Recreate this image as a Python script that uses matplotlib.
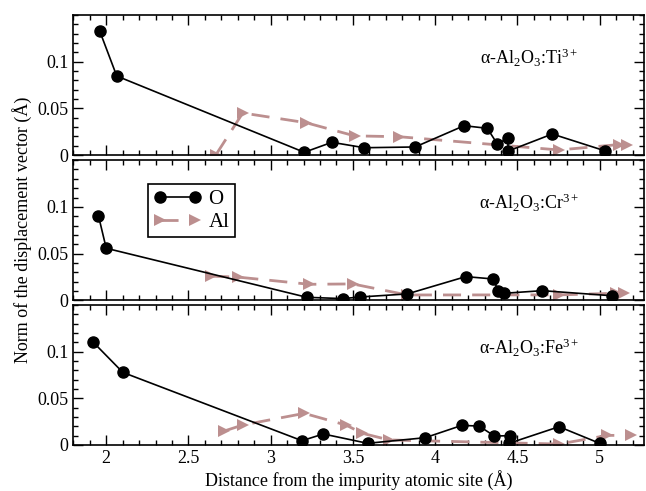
import matplotlib
matplotlib.use("Agg")
import matplotlib.pyplot as plt
from matplotlib.ticker import MultipleLocator

plt.rcParams['font.family'] = ['Liberation Serif', 'DejaVu Serif']
plt.rcParams['mathtext.fontset'] = 'custom'
plt.rcParams['mathtext.rm'] = 'Liberation Serif'
plt.rcParams['mathtext.it'] = 'Liberation Serif:italic'

# ---- data ----
ti_o_x = [1.96, 2.064, 3.204, 3.372, 3.569, 3.878, 4.176, 4.317, 4.378, 4.44, 4.445, 4.712, 5.03]
ti_o_y = [0.133, 0.0846, 0.0029, 0.0136, 0.0078, 0.0086, 0.0314, 0.0286, 0.0118, 0.0179, 0.0043, 0.0225, 0.0046]
ti_al_x = [2.668, 2.83, 3.215, 3.51, 3.78, 4.753, 5.117, 5.165]
ti_al_y = [0.0005, 0.045, 0.0346, 0.0205, 0.0196, 0.0054, 0.0112, 0.0112]

cr_o_x = [1.953, 2.0, 3.22, 3.44, 3.54, 3.83, 4.186, 4.352, 4.384, 4.419, 4.652, 5.073]
cr_o_y = [0.0904, 0.0558, 0.0034, 0.002, 0.0037, 0.007, 0.0255, 0.023, 0.0102, 0.0077, 0.0105, 0.0051]
cr_al_x = [2.638, 2.8, 3.235, 3.498, 3.83, 4.753, 5.097, 5.148]
cr_al_y = [0.026, 0.025, 0.0173, 0.0177, 0.0059, 0.006, 0.0077, 0.0077]

fe_o_x = [1.919, 2.101, 3.19, 3.32, 3.589, 3.939, 4.162, 4.267, 4.36, 4.455, 4.449, 4.753, 5.0]
fe_o_y = [0.1105, 0.0778, 0.0046, 0.0118, 0.0018, 0.0078, 0.021, 0.0203, 0.0096, 0.01, 0.0018, 0.0196, 0.0018]
fe_al_x = [2.718, 2.83, 3.204, 3.457, 3.558, 3.72, 4.753, 5.047, 5.19]
fe_al_y = [0.015, 0.0214, 0.0339, 0.0214, 0.0125, 0.0054, 0.001, 0.0103, 0.0103]

labels = [r'α-Al$_2$O$_3$:Ti$^{3+}$', r'α-Al$_2$O$_3$:Cr$^{3+}$', r'α-Al$_2$O$_3$:Fe$^{3+}$']
y_ticks = [0, 0.05, 0.1]
y_ticklabels = ['0', '0.05', '0.1']
x_ticks = [2, 2.5, 3, 3.5, 4, 4.5, 5]
x_ticklabels = ['2', '2.5', '3', '3.5', '4', '4.5', '5']

AL_COLOR = '#BC8F8F'
FS = 13

fig = plt.figure(figsize=(6.46, 4.91), dpi=100)
left, right = 0.1135, 0.997
boxes = [(0.6843, 0.9695), (0.3880, 0.6740), (0.0937, 0.3788)]

series = [(ti_o_x, ti_o_y, ti_al_x, ti_al_y),
          (cr_o_x, cr_o_y, cr_al_x, cr_al_y),
          (fe_o_x, fe_o_y, fe_al_x, fe_al_y)]

axes = []
for i, ((b, t), (ox, oy, ax_, ay)) in enumerate(zip(boxes, series)):
    ax = fig.add_axes([left, b, right - left, t - b])
    ax.plot(ax_, ay, color=AL_COLOR, lw=2.0, linestyle=(0, (6.5, 4)),
            marker='>', markersize=9, markeredgewidth=0, label='Al', zorder=2)
    ax.plot(ox, oy, color='black', lw=1.2, marker='o', markersize=8,
            label='O', zorder=3)
    ax.set_xlim(1.8, 5.27)
    ax.set_ylim(0, 0.15)
    ax.set_yticks(y_ticks)
    ax.set_yticklabels(y_ticklabels)
    ax.set_xticks(x_ticks)
    if i == 2:
        ax.set_xticklabels(x_ticklabels)
    else:
        ax.set_xticklabels([])
    ax.xaxis.set_minor_locator(MultipleLocator(0.1))
    ax.yaxis.set_minor_locator(MultipleLocator(0.01))
    ax.tick_params(which='both', direction='in', top=True, right=True,
                   labelsize=FS, width=1.0)
    ax.tick_params(which='major', length=7)
    ax.tick_params(which='minor', length=3.5)
    for sp in ax.spines.values():
        sp.set_linewidth(1.2)
    ax.text(4.57, 0.104, labels[i], fontsize=FS, ha='center', va='center')
    axes.append(ax)

h, l = axes[1].get_legend_handles_labels()
leg = axes[1].legend([h[1], h[0]], [l[1], l[0]], loc='upper left',
                     bbox_to_anchor=(0.131, 0.827), borderaxespad=0,
                     fancybox=False, edgecolor='black', framealpha=1,
                     fontsize=15, numpoints=2, handlelength=2.3,
                     handletextpad=0.35, borderpad=0.25, labelspacing=0.15)
leg.get_frame().set_linewidth(1.2)

fig.text(0.034, 0.532, 'Norm of the displacement vector (Å)', rotation=90,
         ha='center', va='center', fontsize=FS)
fig.text(0.555, 0.022, 'Distance from the impurity atomic site (Å)',
         ha='center', va='center', fontsize=FS)

fig.savefig('out.png', dpi=100)
